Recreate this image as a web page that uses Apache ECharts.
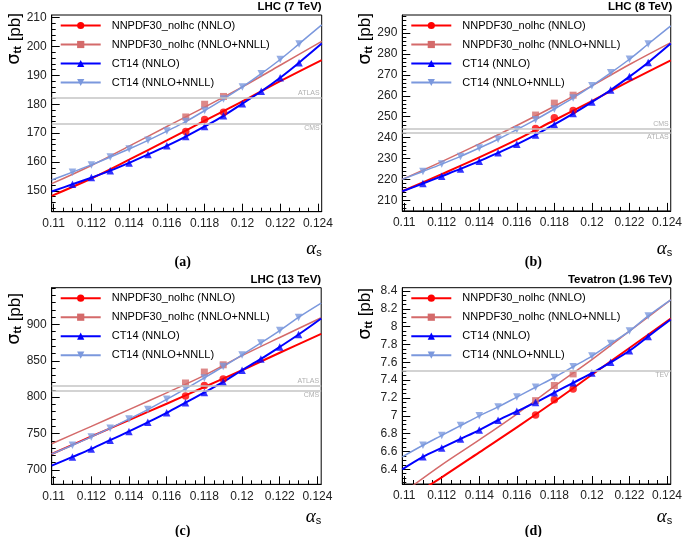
<!DOCTYPE html>
<html><head><meta charset="utf-8">
<script src="https://cdn.jsdelivr.net/npm/echarts@6/dist/echarts.min.js"></script>
<style>html,body{margin:0;padding:0;background:#fff}#c{width:685px;height:537px}</style>
</head><body><div id="c"></div>
<script>
// ---------- data ----------
const alphaPts = [0.111,0.112,0.113,0.114,0.115,0.116,0.117,0.118,0.119,0.120,0.121,0.122,0.123];
const alphaEdges = [0.1099, 0.1242];
const nnpdfPtsAlpha = [0.117, 0.118, 0.119];
const nnpdfLineAlpha = [0.1099, 0.112, 0.114, 0.116, 0.118, 0.120, 0.122, 0.1242];
const xTickLabels = [0.11,0.112,0.114,0.116,0.118,0.12,0.122,0.124];
const seriesNames = ['NNPDF30_nolhc (NNLO)','NNPDF30_nolhc (NNLO+NNLL)','CT14 (NNLO)','CT14 (NNLO+NNLL)'];

// (a) LHC 7 TeV
const a_ct14Nnlo      = [152.3,154.6,157.0,159.7,162.6,165.6,168.8,172.3,176.0,180.2,184.5,189.2,194.4];
const a_ct14NnloEdges = [149.8, 201.0];
const a_ct14Nnll      = [156.5,159.0,161.7,164.5,167.5,170.7,174.0,177.8,181.8,186.0,190.6,195.5,200.9];
const a_ct14NnllEdges = [153.8, 207.5];
const a_nnpdfNnloPts  = [170.6,174.7,177.2];
const a_nnpdfNnloLine = [148.3,154.3,160.8,167.5,174.3,181.0,188.0,195.3];
const a_nnpdfNnllPts  = [175.6,180.0,182.7];
const a_nnpdfNnllLine = [152.5,158.8,165.5,172.3,179.0,186.0,193.5,201.8];
const a_refNames = ['ATLAS','CMS'];
const a_refValues = [182.4, 173.4];
const a_yTicks = [150,160,170,180,190,200,210];

// (b) LHC 8 TeV
const b_ct14Nnlo      = [218.0,221.5,225.0,228.7,232.7,236.8,241.3,246.3,251.5,257.0,262.8,269.2,276.0];
const b_ct14NnloEdges = [214.3, 285.0];
const b_ct14Nnll      = [223.8,227.3,231.0,235.0,239.2,243.8,248.6,253.7,259.0,264.8,271.0,277.5,284.8];
const b_ct14NnllEdges = [220.0, 293.5];
const b_nnpdfNnloPts  = [244.3,249.5,253.0];
const b_nnpdfNnloLine = [214.3,222.5,230.5,239.0,248.3,257.5,267.0,277.0];
const b_nnpdfNnllPts  = [250.8,256.5,260.3];
const b_nnpdfNnllLine = [220.0,228.5,237.0,245.8,255.0,264.8,275.0,285.5];
const b_refNames = ['CMS','ATLAS'];
const b_refValues = [244.2, 242.5];
const b_yTicks = [210,220,230,240,250,260,270,280,290];

// (c) LHC 13 TeV
const c_ct14Nnlo      = [718,729,741,753,765.5,778.5,792.5,806.5,821,837,852.5,869,886];
const c_ct14NnloEdges = [706, 908];
const c_ct14Nnll      = [734,745.5,757.5,770,783,797,811.5,826.5,842,858,874.5,891.5,909.5];
const c_ct14NnllEdges = [722, 929];
const c_nnpdfNnloPts  = [801.5,816,825];
const c_nnpdfNnloLine = [722,746,768.5,791,814,837,861,887];
const c_nnpdfNnllPts  = [819.5,834.5,844.5];
const c_nnpdfNnllLine = [736,760,783,806,830,857,882,909];
const c_refNames = ['ATLAS','CMS'];
const c_refValues = [815.3, 809.3];
const c_yTicks = [700,750,800,850,900];

// (d) Tevatron 1.96 TeV
const d_ct14Nnlo      = [6.54,6.64,6.74,6.84,6.95,7.05,7.15,7.26,7.37,7.48,7.60,7.73,7.89];
const d_ct14NnloEdges = [6.40, 8.08];
const d_ct14Nnll      = [6.67,6.78,6.89,7.00,7.10,7.21,7.32,7.43,7.55,7.67,7.81,7.95,8.12];
const d_ct14NnllEdges = [6.54, 8.30];
const d_nnpdfNnloPts  = [7.01,7.18,7.30];
const d_nnpdfNnloLine = [6.03,6.31,6.59,6.87,7.16,7.46,7.76,8.09];
const d_nnpdfNnllPts  = [7.17,7.34,7.47];
const d_nnpdfNnllLine = [6.13,6.45,6.73,7.02,7.33,7.63,7.95,8.30];
const d_refNames = ['TEV'];
const d_refValues = [7.515];
const d_yTicks = [6.4,6.6,6.8,7,7.2,7.4,7.6,7.8,8,8.2,8.4];

// ---------- panel config ----------
const panels = [
  {title:'LHC (7 TeV)', tag:'(a)', yMin:142.8, yMax:210.9, yTicks:a_yTicks, yMinor:2, dec:0,
   ctNnlo:a_ct14Nnlo, ctNnloE:a_ct14NnloEdges, ctNnll:a_ct14Nnll, ctNnllE:a_ct14NnllEdges,
   npNnloP:a_nnpdfNnloPts, npNnloL:a_nnpdfNnloLine, npNnllP:a_nnpdfNnllPts, npNnllL:a_nnpdfNnllLine,
   refN:a_refNames, refV:a_refValues, refPos:['insideEndTop','insideEndBottom']},
  {title:'LHC (8 TeV)', tag:'(b)', yMin:204.9, yMax:298.7, yTicks:b_yTicks, yMinor:2, dec:0,
   ctNnlo:b_ct14Nnlo, ctNnloE:b_ct14NnloEdges, ctNnll:b_ct14Nnll, ctNnllE:b_ct14NnllEdges,
   npNnloP:b_nnpdfNnloPts, npNnloL:b_nnpdfNnloLine, npNnllP:b_nnpdfNnllPts, npNnllL:b_nnpdfNnllLine,
   refN:b_refNames, refV:b_refValues, refPos:['insideEndTop','insideEndBottom']},
  {title:'LHC (13 TeV)', tag:'(c)', yMin:680.4, yMax:950.3, yTicks:c_yTicks, yMinor:10, dec:0,
   ctNnlo:c_ct14Nnlo, ctNnloE:c_ct14NnloEdges, ctNnll:c_ct14Nnll, ctNnllE:c_ct14NnllEdges,
   npNnloP:c_nnpdfNnloPts, npNnloL:c_nnpdfNnloLine, npNnllP:c_nnpdfNnllPts, npNnllL:c_nnpdfNnllLine,
   refN:c_refNames, refV:c_refValues, refPos:['insideEndTop','insideEndBottom']},
  {title:'Tevatron (1.96 TeV)', tag:'(d)', yMin:6.235, yMax:8.437, yTicks:d_yTicks, yMinor:0.05, dec:1,
   ctNnlo:d_ct14Nnlo, ctNnloE:d_ct14NnloEdges, ctNnll:d_ct14Nnll, ctNnllE:d_ct14NnllEdges,
   npNnloP:d_nnpdfNnloPts, npNnloL:d_nnpdfNnloLine, npNnllP:d_nnpdfNnllPts, npNnllL:d_nnpdfNnllLine,
   refN:d_refNames, refV:d_refValues, refPos:['insideEndBottom']}
];
const layout = [
  {left:51.7, top:15, width:270, height:196.7, tagY:262, axTitleY:247, yTitleTop:13},
  {left:402.3, top:15, width:270, height:195.9, tagY:262, axTitleY:247, yTitleTop:13},
  {left:51.7, top:287.7, width:269.5, height:196.6, tagY:531, axTitleY:515, yTitleTop:293},
  {left:402.3, top:287.7, width:270, height:196.3, tagY:531, axTitleY:515, yTitleTop:288}
];

const FONT = 'Liberation Sans, Arial, Helvetica, sans-serif';
const styles = [
  {color:'#ff0000', width:2,   symbol:'circle',   size:7.5, rot:0},
  {color:'#d46a6a', width:1.5, symbol:'rect',     size:7,   rot:0},
  {color:'#0000ff', width:2,   symbol:'triangle', size:7.5, rot:0},
  {color:'#7b98dd', width:1.5, symbol:'triangle', size:7.5, rot:180}
];

function steps(a, b, s){ const o=[]; for(let v=a; v<=b+s*1e-6; v+=s) o.push(+v.toFixed(6)); return o; }
function zip(xs, ys){ return xs.map((x,i)=>[x, ys[i]]); }

const grid=[], xAxis=[], yAxis=[], series=[], legend=[], title=[], graphic=[];
const xMin = alphaEdges[0], xMax = alphaEdges[1];
const xMinor = steps(0.11, 0.124, 0.0005);

panels.forEach((p, i) => {
  const L = layout[i];
  grid.push({left:L.left, top:L.top, width:L.width, height:L.height, show:true,
    borderColor:'#000', borderWidth:1, backgroundColor:'transparent'});
  const xi = xAxis.length;
  xAxis.push({type:'value', gridIndex:i, min:xMin, max:xMax, position:'bottom',
    axisLine:{show:true, onZero:false, lineStyle:{color:'#000', width:1}},
    axisTick:{show:true, inside:true, length:8, customValues:xTickLabels, lineStyle:{color:'#000'}},
    axisLabel:{show:true, customValues:xTickLabels, margin:6, fontFamily:FONT, fontSize:12, color:'#222',
      formatter:v=>String(+(+v).toFixed(3))},
    splitLine:{show:false}});
  xAxis.push({type:'value', gridIndex:i, min:xMin, max:xMax, position:'bottom',
    axisLine:{show:false}, axisLabel:{show:false}, splitLine:{show:false},
    axisTick:{show:true, inside:true, length:4, customValues:xMinor, lineStyle:{color:'#000'}}});
  const yi = yAxis.length;
  const yMinorVals = steps(Math.ceil(p.yMin/p.yMinor)*p.yMinor, p.yMax, p.yMinor);
  yAxis.push({type:'value', gridIndex:i, min:p.yMin, max:p.yMax, position:'left',
    axisLine:{show:true, onZero:false, lineStyle:{color:'#000', width:1}},
    axisTick:{show:true, inside:true, length:8, customValues:p.yTicks, lineStyle:{color:'#000'}},
    axisLabel:{show:true, customValues:p.yTicks, margin:5, fontFamily:FONT, fontSize:12, color:'#222',
      formatter:v=>String(+(+v).toFixed(p.dec))},
    splitLine:{show:false}});
  yAxis.push({type:'value', gridIndex:i, min:p.yMin, max:p.yMax, position:'left',
    axisLine:{show:false}, axisLabel:{show:false}, splitLine:{show:false},
    axisTick:{show:true, inside:true, length:4, customValues:yMinorVals, lineStyle:{color:'#000'}}});

  // reference measurement lines
  series.push({type:'line', name:'ref'+i, xAxisIndex:xi, yAxisIndex:yi, data:[], z:1, silent:true,
    markLine:{silent:true, symbol:['none','none'], animation:false,
      lineStyle:{color:'#c4c4c4', width:1.5, type:'solid'},
      data:p.refV.map((v,k)=>({yAxis:v, name:p.refN[k],
        label:{show:true, position:p.refPos[k], formatter:p.refN[k], color:'#b0b0b0', fontSize:7, fontFamily:FONT, distance:[2,1]}}))}});

  const lineData = [
    zip(nnpdfLineAlpha, p.npNnloL),
    zip(nnpdfLineAlpha, p.npNnllL),
    zip([alphaEdges[0], ...alphaPts, alphaEdges[1]], [p.ctNnloE[0], ...p.ctNnlo, p.ctNnloE[1]]),
    zip([alphaEdges[0], ...alphaPts, alphaEdges[1]], [p.ctNnllE[0], ...p.ctNnll, p.ctNnllE[1]])
  ];
  const ptData = [
    zip(nnpdfPtsAlpha, p.npNnloP),
    zip(nnpdfPtsAlpha, p.npNnllP),
    zip(alphaPts, p.ctNnlo),
    zip(alphaPts, p.ctNnll)
  ];
  [1,0,3,2].forEach(k => {
    const s = styles[k];
    series.push({type:'line', name:seriesNames[k], xAxisIndex:xi, yAxisIndex:yi, data:lineData[k],
      smooth:0.35, showSymbol:false, symbol:s.symbol, symbolRotate:s.rot, symbolSize:s.size, clip:true,
      lineStyle:{color:s.color, width:s.width}, itemStyle:{color:s.color}, z:2, animation:false});
  });
  [1,0,3,2].forEach(k => {
    const s = styles[k];
    series.push({type:'scatter', name:seriesNames[k]+' pts', xAxisIndex:xi, yAxisIndex:yi, data:ptData[k],
      symbol:s.symbol, symbolRotate:s.rot, symbolSize:s.size, itemStyle:{color:s.color}, z:3, animation:false});
  });

  legend.push({orient:'vertical', left:L.left+8, top:L.top+3.5, data:seriesNames, selectedMode:false,
    itemWidth:40, itemHeight:9, itemGap:5, padding:0,
    textStyle:{fontFamily:FONT, fontSize:11, color:'#000', lineHeight:14, padding:[0,0,0,6]}});

  title.push({text:p.title, right:685-(L.left+L.width), top:L.top-14, padding:0,
    textStyle:{fontFamily:FONT, fontSize:11.5, fontWeight:'bold', color:'#000'}});

  // panel tag
  graphic.push({type:'text', x:L.left+131, y:L.tagY, silent:true,
    style:{text:p.tag, align:'center', verticalAlign:'middle', fill:'#000',
      font:'bold 14px "Liberation Serif", "Times New Roman", serif'}});
  // x title
  graphic.push({type:'text', x:L.left+L.width, y:L.axTitleY, silent:true,
    style:{text:'{a|α}{b|s}', align:'right', verticalAlign:'middle',
      rich:{a:{fontFamily:'Liberation Serif, serif', fontStyle:'italic', fontSize:19, fill:'#000', lineHeight:22, verticalAlign:'bottom'},
            b:{fontFamily:FONT, fontSize:11, fill:'#000', lineHeight:22, verticalAlign:'bottom', padding:[6,0,0,0]}}}});
  // y title
  graphic.push({type:'text', x:L.left-39, y:L.yTitleTop, rotation:Math.PI/2, silent:true,
    style:{text:'{a|σ}{b|tt}{c| [pb]}', align:'right', verticalAlign:'middle',
      rich:{a:{fontFamily:'DejaVu Sans, sans-serif', fontSize:18, fill:'#000', lineHeight:22, verticalAlign:'bottom'},
            b:{fontFamily:FONT, fontSize:11, fontWeight:'bold', fill:'#000', lineHeight:22, verticalAlign:'bottom', padding:[7,0,0,0]},
            c:{fontFamily:FONT, fontSize:17, fill:'#000', lineHeight:22, verticalAlign:'bottom'}}}});
});

const chart = echarts.init(document.getElementById('c'), null, {renderer:'canvas'});
chart.setOption({animation:false, backgroundColor:'#fff', grid, xAxis, yAxis, series, legend, title, graphic});
</script>
</body></html>
